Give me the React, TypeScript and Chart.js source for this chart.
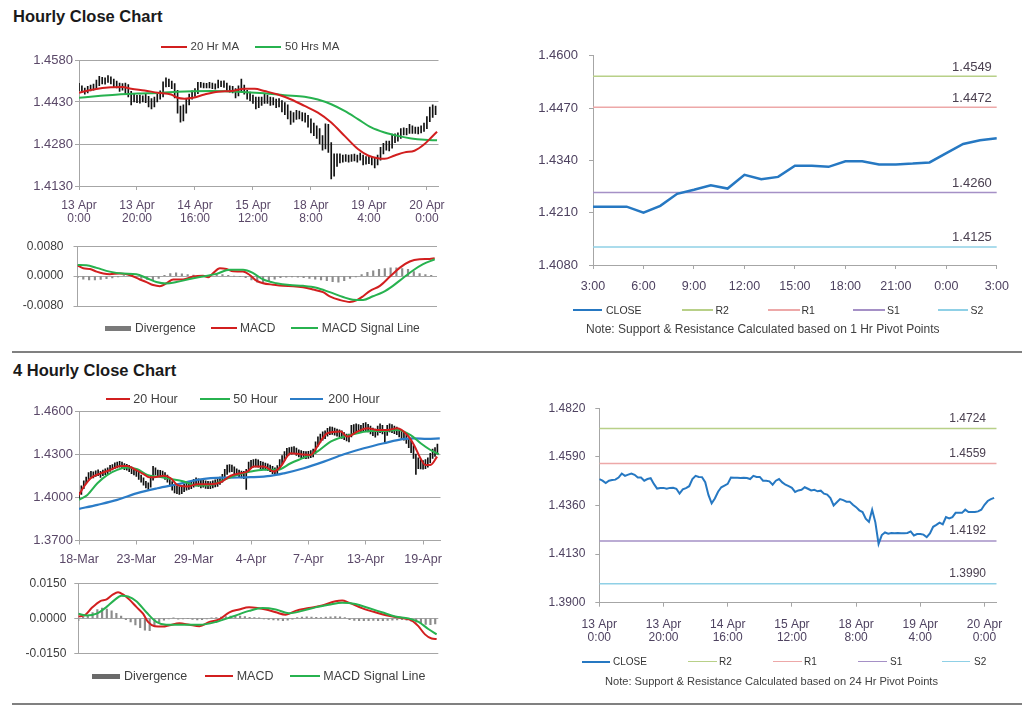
import React, { useEffect, useRef } from 'react';
import { Chart, registerables } from 'chart.js';

Chart.register(...registerables);

const FONT = '"Liberation Sans", Arial, Helvetica, sans-serif';
Chart.defaults.font.family = FONT;

// ---------------- DATA: hourly (13 Apr 0:00 -> 20 Apr ~3:00) ----------------
const hourTickIdx = [0, 20, 40, 60, 80, 100, 120];
const hourTickLabels = [
  ['13 Apr', '0:00'], ['13 Apr', '20:00'], ['14 Apr', '16:00'], ['15 Apr', '12:00'],
  ['18 Apr', '8:00'], ['19 Apr', '4:00'], ['20 Apr', '0:00'],
];
const hourYTicks = [1.413, 1.428, 1.443, 1.458];

const hourHigh = [
  1.4497, 1.4488, 1.4480, 1.4486, 1.4490, 1.4494, 1.4508, 1.4522, 1.4518, 1.4516,
  1.4524, 1.4520, 1.4512, 1.4505, 1.4498, 1.4496, 1.4498, 1.4492, 1.4468, 1.4458,
  1.4454, 1.4455, 1.4452, 1.4457, 1.4450, 1.4442, 1.4448, 1.4460, 1.4470, 1.4502,
  1.4516, 1.4512, 1.4505, 1.4496, 1.4472, 1.4415, 1.4420, 1.4440, 1.4458, 1.4470,
  1.4478, 1.4500, 1.4500, 1.4498, 1.4497, 1.4500, 1.4498, 1.4495, 1.4508, 1.4505,
  1.4506, 1.4498, 1.4488, 1.4486, 1.4478, 1.4488, 1.4512, 1.4490, 1.4472, 1.4465,
  1.4455, 1.4448, 1.4448, 1.4448, 1.4460, 1.4455, 1.4448, 1.4446, 1.4440, 1.4442,
  1.4435, 1.4428, 1.4420, 1.4398, 1.4392, 1.4400, 1.4398, 1.4392, 1.4390, 1.4382,
  1.4370, 1.4355, 1.4345, 1.4335, 1.4310, 1.4352, 1.4350, 1.4285, 1.4245, 1.4245,
  1.4245, 1.4240, 1.4242, 1.4240, 1.4242, 1.4244, 1.4240, 1.4248, 1.4240, 1.4235,
  1.4236, 1.4235, 1.4230, 1.4240, 1.4268, 1.4282, 1.4290, 1.4290, 1.4315, 1.4316,
  1.4320, 1.4335, 1.4338, 1.4336, 1.4350, 1.4345, 1.4340, 1.4340, 1.4345, 1.4355,
  1.4378, 1.4412, 1.4420, 1.4415,
];
const hourLow = [
  1.4470, 1.4465, 1.4458, 1.4462, 1.4470, 1.4472, 1.4478, 1.4488, 1.4495, 1.4494,
  1.4500, 1.4495, 1.4485, 1.4480, 1.4468, 1.4472, 1.4458, 1.4448, 1.4420, 1.4430,
  1.4428, 1.4426, 1.4430, 1.4428, 1.4412, 1.4405, 1.4412, 1.4430, 1.4440, 1.4448,
  1.4484, 1.4485, 1.4478, 1.4445, 1.4390, 1.4358, 1.4362, 1.4390, 1.4420, 1.4440,
  1.4450, 1.4460, 1.4482, 1.4480, 1.4480, 1.4480, 1.4478, 1.4476, 1.4480, 1.4485,
  1.4482, 1.4468, 1.4465, 1.4462, 1.4445, 1.4452, 1.4470, 1.4458, 1.4440, 1.4435,
  1.4425, 1.4405, 1.4410, 1.4418, 1.4425, 1.4425, 1.4418, 1.4420, 1.4410, 1.4412,
  1.4395, 1.4385, 1.4370, 1.4350, 1.4358, 1.4368, 1.4370, 1.4362, 1.4358, 1.4340,
  1.4320, 1.4310, 1.4300, 1.4280, 1.4258, 1.4262, 1.4250, 1.4155, 1.4165, 1.4200,
  1.4212, 1.4215, 1.4218, 1.4215, 1.4218, 1.4220, 1.4215, 1.4222, 1.4205, 1.4208,
  1.4210, 1.4205, 1.4195, 1.4205, 1.4222, 1.4245, 1.4258, 1.4255, 1.4265, 1.4285,
  1.4290, 1.4300, 1.4312, 1.4312, 1.4318, 1.4318, 1.4318, 1.4316, 1.4320, 1.4325,
  1.4335, 1.4360, 1.4375, 1.4385,
];
const hourClose = [
  1.4485, 1.4477, 1.4466, 1.4477, 1.4480, 1.4482, 1.4492, 1.4511, 1.4500, 1.4506,
  1.4511, 1.4505, 1.4492, 1.4492, 1.4477, 1.4485, 1.4489, 1.4462, 1.4440, 1.4443,
  1.4443, 1.4439, 1.4443, 1.4444, 1.4439, 1.4416, 1.4436, 1.4442, 1.4451, 1.4485,
  1.4500, 1.4495, 1.4494, 1.4470, 1.4410, 1.4370, 1.4393, 1.4425, 1.4446, 1.4454,
  1.4462, 1.4492, 1.4491, 1.4491, 1.4490, 1.4491, 1.4490, 1.4485, 1.4500, 1.4495,
  1.4495, 1.4477, 1.4477, 1.4474, 1.4458, 1.4477, 1.4485, 1.4469, 1.4458, 1.4451,
  1.4443, 1.4424, 1.4431, 1.4434, 1.4446, 1.4439, 1.4431, 1.4434, 1.4427, 1.4430,
  1.4416, 1.4411, 1.4395, 1.4360, 1.4375, 1.4390, 1.4385, 1.4378, 1.4378, 1.4363,
  1.4352, 1.4337, 1.4329, 1.4297, 1.4282, 1.4340, 1.4280, 1.4178, 1.4220, 1.4232,
  1.4226, 1.4230, 1.4228, 1.4230, 1.4229, 1.4229, 1.4230, 1.4237, 1.4218, 1.4225,
  1.4225, 1.4222, 1.4210, 1.4228, 1.4259, 1.4268, 1.4279, 1.4271, 1.4305, 1.4299,
  1.4305, 1.4325, 1.4325, 1.4325, 1.4340, 1.4329, 1.4329, 1.4329, 1.4332, 1.4340,
  1.4363, 1.4381, 1.4390, 1.4396,
];
const hourMa20X = [0, 5, 11, 15, 18, 22.6, 27.2, 31.8, 34, 36.4, 39.3, 43.3, 48, 52.5, 57, 60.6, 64, 68.6, 73.2, 77.8, 82.4, 87, 91.6, 96.2, 99.7, 103, 105.4, 108.9, 112.3, 115.7, 119.2, 121.6, 123.5];
const hourMa20 = [1.4463, 1.4475, 1.4483, 1.4484, 1.4477, 1.4471, 1.4463, 1.4457, 1.4445, 1.4442, 1.4445, 1.4457, 1.4467, 1.4469, 1.4477, 1.4477, 1.4469, 1.4457, 1.4439, 1.4416, 1.4392, 1.4357, 1.4309, 1.4262, 1.4239, 1.4229, 1.4227, 1.4239, 1.4250, 1.4256, 1.4280, 1.4304, 1.4324];
const hourMa50X = [0, 6.6, 13.5, 20.3, 28.4, 34, 45.6, 54.8, 64, 70.9, 77.8, 82.4, 87, 91.6, 96.2, 100.8, 105.4, 110, 114.6, 119.2, 123.5];
const hourMa50 = [1.4445, 1.4451, 1.4457, 1.4460, 1.4463, 1.4467, 1.4469, 1.4467, 1.4461, 1.4454, 1.4449, 1.4439, 1.4422, 1.4398, 1.4369, 1.4339, 1.4321, 1.4309, 1.4300, 1.4295, 1.4293];

const hourMacdTicks = [-0.008, 0, 0.008];
const hourMacdX = [0, 2, 4.3, 6.6, 8.9, 11.1, 14.6, 18, 21.5, 23.8, 26.1, 28.4, 30.7, 33, 36.4, 39.9, 43.3, 45.1, 46.8, 49.1, 51.4, 53.7, 57.1, 59.4, 61.7, 64, 67.5, 70.9, 74.4, 77.8, 81.3, 84.7, 87, 90.5, 93.9, 96.2, 98.5, 100.8, 104.3, 107.7, 111.1, 114.6, 118, 121.5, 123.2];
const hourMacd = [0.0029, 0.0021, 0.0019, 0.0012, 0.0007, 0.0005, 0.0007, 0.0003, -0.0009, -0.0016, -0.0024, -0.0027, -0.0019, -0.0009, -0.0009, -0.0001, 0.0001, -0.0003, 0.0008, 0.0021, 0.0019, 0.0013, 0.0012, 0.0003, -0.0012, -0.0019, -0.0023, -0.0026, -0.0027, -0.0030, -0.0036, -0.0043, -0.0054, -0.0064, -0.0069, -0.0065, -0.0054, -0.0040, -0.0026, -0.0002, 0.0022, 0.0039, 0.0045, 0.0046, 0.0048];
const hourSignalX = [0, 3.1, 6.6, 11.1, 15.7, 20.3, 23.8, 27.2, 30.7, 34.1, 38.7, 43.3, 47.9, 52.5, 57.1, 60.6, 64, 68.6, 73.2, 77.8, 82.4, 87, 91.6, 95, 98.5, 101.9, 105.4, 108.8, 112.3, 115.7, 119.2, 123.2];
const hourSignal = [0.0030, 0.0029, 0.0022, 0.0012, 0.0007, 0.0005, -0.0005, -0.0016, -0.0020, -0.0016, -0.0008, -0.0001, 0.0006, 0.0017, 0.0017, 0.0008, -0.0009, -0.0019, -0.0024, -0.0026, -0.0031, -0.0043, -0.0056, -0.0063, -0.0064, -0.0054, -0.0043, -0.0026, -0.0005, 0.0015, 0.0032, 0.0045];
const DIV_STEP = 2; // divergence read at every 2nd bar
const hourDiv = [
  -0.0004, -0.0008, -0.0010, -0.0010, -0.0009, -0.0007, -0.0005, -0.0002, 0.0001, 0.0002,
  -0.0002, -0.0006, -0.0009, -0.0010, -0.0006, 0.0002, 0.0007, 0.0009, 0.0006, 0.0004,
  0.0003, 0.0002, 0.0000, 0.0004, 0.0005, 0.0004, 0.0002, 0.0000, -0.0001, -0.0004,
  -0.0010, -0.0016, -0.0018, -0.0014, -0.0008, -0.0004, -0.0003, -0.0002, -0.0003, -0.0004,
  -0.0006, -0.0008, -0.0010, -0.0012, -0.0015, -0.0016, -0.0012, -0.0006, -0.0002, 0.0004,
  0.0010, 0.0014, 0.0018, 0.0020, 0.0022, 0.0022, 0.0020, 0.0018, 0.0012, 0.0007,
  0.0004, 0.0002,
];

// ---------------- DATA: 1 hr pivot chart ----------------
const pivot1TickIdx = [0, 3, 6, 9, 12, 15, 18, 21, 24];
const pivot1Labels = ['3:00', '6:00', '9:00', '12:00', '15:00', '18:00', '21:00', '0:00', '3:00'];
const pivot1YTicks = [1.408, 1.421, 1.434, 1.447, 1.46];
const pivot1Close = [1.4225, 1.4225, 1.4225, 1.4210, 1.4227, 1.4257, 1.4267, 1.4278, 1.4270, 1.4304, 1.4293, 1.4299, 1.4327, 1.4327, 1.4324, 1.4338, 1.4338, 1.4330, 1.4330, 1.4332, 1.4335, 1.4358, 1.4381, 1.4390, 1.4395];
const pivotNames = ['R2', 'R1', 'S1', 'S2'];
const pivot1Levels = [1.4549, 1.4472, 1.4260, 1.4125];

// ---------------- DATA: 4 hourly (18 Mar -> 20 Apr) ----------------
const fourTickIdx = [0, 24, 48, 72, 96, 120, 144];
const fourTickLabels = ['18-Mar', '23-Mar', '29-Mar', '4-Apr', '7-Apr', '13-Apr', '19-Apr'];
const fourYTicks = [1.37, 1.40, 1.43, 1.46];
const fourHigh = [
  1.4035, 1.4080, 1.4115, 1.4140, 1.4172, 1.4180, 1.4178, 1.4185, 1.4192, 1.4180,
  1.4190, 1.4198, 1.4205, 1.4222, 1.4228, 1.4240, 1.4245, 1.4250, 1.4245, 1.4235,
  1.4230, 1.4222, 1.4212, 1.4200, 1.4192, 1.4175, 1.4155, 1.4135, 1.4112, 1.4100,
  1.4150, 1.4215, 1.4205, 1.4190, 1.4188, 1.4182, 1.4172, 1.4155, 1.4135, 1.4110,
  1.4090, 1.4080, 1.4075, 1.4082, 1.4092, 1.4100, 1.4105, 1.4110, 1.4125, 1.4135,
  1.4128, 1.4118, 1.4120, 1.4115, 1.4112, 1.4110, 1.4115, 1.4122, 1.4128, 1.4140,
  1.4160, 1.4195, 1.4225, 1.4228, 1.4225, 1.4212, 1.4198, 1.4190, 1.4182, 1.4180,
  1.4195, 1.4245, 1.4258, 1.4262, 1.4265, 1.4260, 1.4250, 1.4245, 1.4238, 1.4232,
  1.4225, 1.4215, 1.4205, 1.4220, 1.4262, 1.4290, 1.4318, 1.4340, 1.4345, 1.4350,
  1.4352, 1.4342, 1.4330, 1.4325, 1.4320, 1.4318, 1.4320, 1.4325, 1.4335, 1.4385,
  1.4420, 1.4440, 1.4455, 1.4462, 1.4480, 1.4490, 1.4488, 1.4482, 1.4475, 1.4470,
  1.4462, 1.4450, 1.4440, 1.4440, 1.4500, 1.4505, 1.4510, 1.4505, 1.4500, 1.4515,
  1.4520, 1.4508, 1.4495, 1.4482, 1.4475, 1.4495, 1.4510, 1.4500, 1.4470, 1.4500,
  1.4510, 1.4505, 1.4495, 1.4488, 1.4472, 1.4462, 1.4452, 1.4435, 1.4412, 1.4390,
  1.4360, 1.4300, 1.4275, 1.4260, 1.4255, 1.4262, 1.4275, 1.4305, 1.4335, 1.4345,
  1.4370,
];
const fourLow = [
  1.3985, 1.4020, 1.4060, 1.4095, 1.4120, 1.4138, 1.4135, 1.4145, 1.4150, 1.4138,
  1.4150, 1.4158, 1.4165, 1.4180, 1.4190, 1.4200, 1.4205, 1.4210, 1.4205, 1.4192,
  1.4188, 1.4178, 1.4165, 1.4155, 1.4145, 1.4125, 1.4105, 1.4085, 1.4065, 1.4055,
  1.4070, 1.4120, 1.4155, 1.4145, 1.4142, 1.4138, 1.4125, 1.4105, 1.4080, 1.4050,
  1.4030, 1.4025, 1.4020, 1.4025, 1.4040, 1.4050, 1.4055, 1.4060, 1.4070, 1.4080,
  1.4075, 1.4065, 1.4070, 1.4062, 1.4060, 1.4060, 1.4065, 1.4072, 1.4075, 1.4090,
  1.4105, 1.4130, 1.4160, 1.4175, 1.4178, 1.4165, 1.4150, 1.4142, 1.4135, 1.4130,
  1.4055, 1.4180, 1.4200, 1.4210, 1.4212, 1.4210, 1.4200, 1.4195, 1.4190, 1.4185,
  1.4178, 1.4165, 1.4150, 1.4165, 1.4200, 1.4230, 1.4255, 1.4285, 1.4295, 1.4300,
  1.4305, 1.4292, 1.4280, 1.4275, 1.4270, 1.4268, 1.4270, 1.4275, 1.4280, 1.4305,
  1.4355, 1.4380, 1.4398, 1.4408, 1.4425, 1.4435, 1.4438, 1.4432, 1.4425, 1.4420,
  1.4410, 1.4400, 1.4392, 1.4385, 1.4420, 1.4445, 1.4455, 1.4452, 1.4450, 1.4458,
  1.4462, 1.4455, 1.4440, 1.4428, 1.4418, 1.4432, 1.4450, 1.4440, 1.4380, 1.4430,
  1.4455, 1.4450, 1.4442, 1.4435, 1.4420, 1.4408, 1.4398, 1.4375, 1.4345, 1.4310,
  1.4270, 1.4160, 1.4200, 1.4198, 1.4195, 1.4200, 1.4210, 1.4240, 1.4270, 1.4285,
  1.4300,
];
const fourMa20X = [0, 2.1, 4.9, 9.1, 13.2, 17.4, 20.2, 23.7, 27.2, 29.3, 31.4, 35.6, 38.4, 41.1, 45.3, 49.5, 55.1, 59.3, 63.5, 67.6, 70.4, 73.2, 77.4, 81.6, 84.4, 88.6, 92.8, 96.9, 99.7, 103.9, 109.5, 112.3, 116.5, 120.7, 124.8, 129, 133.2, 137.4, 140.2, 142.9, 145, 147.1, 149.9];
const fourMa20 = [1.4017, 1.4075, 1.4133, 1.4167, 1.4191, 1.4218, 1.4218, 1.4191, 1.4160, 1.4140, 1.4140, 1.4150, 1.4133, 1.4086, 1.4075, 1.4091, 1.4091, 1.4105, 1.4150, 1.4167, 1.4179, 1.4214, 1.4214, 1.4179, 1.4214, 1.4306, 1.4299, 1.4295, 1.4352, 1.4445, 1.4457, 1.4422, 1.4457, 1.4480, 1.4468, 1.4468, 1.4480, 1.4433, 1.4364, 1.4272, 1.4225, 1.4225, 1.4283];
const fourMa50X = [0, 3.5, 7.7, 11.9, 16, 20.2, 24.4, 28.6, 32.8, 38.4, 43.9, 49.5, 55.1, 60.7, 66.3, 71.8, 77.4, 83, 88.6, 94.1, 99.7, 105.3, 110.9, 116.5, 122, 127.6, 133.2, 138.8, 143, 147.1, 150.6];
const fourMa50 = [1.3982, 1.4017, 1.4098, 1.4156, 1.4191, 1.4207, 1.4195, 1.4156, 1.4144, 1.4128, 1.4110, 1.4082, 1.4086, 1.4121, 1.4156, 1.4179, 1.4191, 1.4191, 1.4237, 1.4276, 1.4318, 1.4387, 1.4422, 1.4445, 1.4461, 1.4461, 1.4468, 1.4433, 1.4376, 1.4329, 1.4299];
const fourMa200X = [0, 7.7, 16, 24.4, 32.8, 41.1, 49.5, 55.1, 63.5, 71.8, 80.2, 85.8, 94.1, 102.5, 110.9, 119.2, 127.6, 136, 140.2, 145.7, 151];
const fourMa200 = [1.3920, 1.3948, 1.3982, 1.4029, 1.4063, 1.4091, 1.4121, 1.4133, 1.4137, 1.4140, 1.4149, 1.4167, 1.4202, 1.4248, 1.4299, 1.4341, 1.4376, 1.4406, 1.4410, 1.4406, 1.4410];

const fourMacdTicks = [-0.015, 0, 0.015];
const fourMacdX = [0, 2.8, 5.6, 9.1, 11.9, 14.6, 16.7, 18.8, 21.6, 24.4, 27.2, 29.3, 32.1, 35.6, 38.4, 42.5, 46.7, 50.9, 55.1, 59.3, 63.5, 67.6, 71.8, 75.3, 78.8, 83, 87.2, 91.3, 96.9, 102.5, 108.1, 110.9, 113.7, 119.2, 124.8, 130.4, 136, 140.2, 142.9, 145.7, 148.5, 150.6];
const fourMacd = [0.0008, 0.0014, 0.0044, 0.0073, 0.0081, 0.0102, 0.0111, 0.0102, 0.0079, 0.0049, 0.0020, -0.0015, -0.0033, -0.0035, -0.0029, -0.0021, -0.0027, -0.0033, -0.0015, -0.0004, 0.0026, 0.0038, 0.0047, 0.0044, 0.0038, 0.0026, 0.0016, 0.0032, 0.0044, 0.0055, 0.0073, 0.0076, 0.0067, 0.0044, 0.0026, 0.0011, 0.0002, -0.0009, -0.0033, -0.0068, -0.0086, -0.0088];
const fourSignalX = [0, 3.5, 7.7, 11.9, 15.3, 18.1, 20.9, 24.4, 28.6, 32.8, 37, 43.9, 50.9, 57.9, 64.9, 71.8, 77.4, 83, 88.6, 94.1, 99.7, 105.3, 110.9, 116.5, 122, 127.6, 133.2, 138.8, 143, 147.1, 150.6];
const fourSignal = [0.0020, 0.0012, 0.0020, 0.0049, 0.0079, 0.0096, 0.0093, 0.0073, 0.0026, -0.0015, -0.0027, -0.0027, -0.0027, -0.0015, 0.0008, 0.0032, 0.0044, 0.0038, 0.0022, 0.0032, 0.0047, 0.0058, 0.0067, 0.0061, 0.0044, 0.0026, 0.0008, 0.0000, -0.0015, -0.0045, -0.0068];
const fourDiv = [
  -0.0010, 0.0005, 0.0012, 0.0025, 0.0038, 0.0044, 0.0040, 0.0032, 0.0022, 0.0010,
  -0.0005, -0.0015, -0.0028, -0.0040, -0.0050, -0.0052, -0.0035, -0.0015, -0.0008, -0.0002,
  0.0002, -0.0003, -0.0002, 0.0000, -0.0004, -0.0006, -0.0005, -0.0002, 0.0002, 0.0004,
  0.0006, 0.0008, 0.0010, 0.0012, 0.0010, 0.0008, 0.0005, 0.0003, 0.0001, -0.0002,
  -0.0004, -0.0006, -0.0008, -0.0010, -0.0008, -0.0003, 0.0003, 0.0006, 0.0007, 0.0006,
  0.0005, 0.0004, 0.0006, 0.0007, 0.0008, 0.0007, 0.0003, -0.0005, -0.0009, -0.0010,
  -0.0010, -0.0010, -0.0009, -0.0010, -0.0010, -0.0009, -0.0008, -0.0006, -0.0005, -0.0008,
  -0.0012, -0.0016, -0.0022, -0.0026, -0.0027, -0.0024,
];

// ---------------- DATA: 24 hr pivot chart ----------------
const pivot24YTicks = [1.39, 1.413, 1.436, 1.459, 1.482];
const pivot24Levels = [1.4724, 1.4559, 1.4192, 1.3990];

// ---------------- STYLES ----------------
const GRID = '#a6a6a6';
const TICK_PRICE = '#5a4868';
const TICK_MACD = '#3a3a3a';
const TICK_PIVOT = '#4e4260';
const TXT = '#3f3f3f';
const RED = '#d21f1f';
const GREEN = '#27b24f';
const BLUE200 = '#2b7cc7';
const CLOSE_BLUE = '#2678c2';
const DIV_GRAY = '#8c8c8c';
const PIVOT_COLORS = ['#b8d088', '#eda8a8', '#a590c6', '#8fd0e6'];

type Geo = { cx: number; cy: number; cw: number; ch: number; L: number; T: number; R: number; B: number };
const G1: Geo = { cx: 0, cy: 50, cw: 460, ch: 180, L: 79, T: 60, R: 438.5, B: 186 };
const G2: Geo = { cx: 0, cy: 229, cw: 460, ch: 97, L: 77.5, T: 239, R: 437, B: 316 };
const G3: Geo = { cx: 520, cy: 37, cw: 500, ch: 263, L: 593, T: 47, R: 998, B: 265 };
const G4: Geo = { cx: 0, cy: 401, cw: 460, ch: 170, L: 79, T: 411, R: 440.5, B: 540.5 };
const G5: Geo = { cx: 0, cy: 568, cw: 460, ch: 105, L: 78.3, T: 578.3, R: 438.3, B: 663.3 };
const G6: Geo = { cx: 520, cy: 391, cw: 500, ch: 255, L: 599.3, T: 401.7, R: 996.7, B: 602.7 };

const pts = (xs: number[], ys: number[]) => xs.map((x, k) => ({ x, y: ys[k] }));

function yAxis(g: Geo, min: number, max: number, ticks: number[], o: any) {
  return {
    type: 'linear', position: 'left', min, max,
    afterBuildTicks: (s: any) => { s.ticks = ticks.map((v) => ({ value: v })); },
    afterFit: (s: any) => { s.width = g.L - g.cx; },
    ticks: {
      autoSkip: false, padding: o.pad, color: o.color,
      font: { size: o.size, family: FONT },
      callback: (v: any) => Number(v).toFixed(4),
    },
    grid: { display: true, drawOnChartArea: o.grid, drawTicks: true, tickLength: 4, color: GRID, lineWidth: 1 },
    border: { display: true, color: GRID, width: 1 },
  };
}

function xAxis(g: Geo, min: number, max: number, tickIdx: number[], labels: any[], o: any) {
  return {
    type: 'linear', position: 'bottom', min, max, offset: false, display: o.show,
    afterBuildTicks: (s: any) => { s.ticks = tickIdx.map((v) => ({ value: v })); },
    afterFit: (s: any) => { s.height = g.cy + g.ch - g.B; },
    ticks: {
      autoSkip: false, maxRotation: 0, minRotation: 0, padding: o.pad || 0, color: o.color || TXT,
      font: { size: o.size || 12, family: FONT, lineHeight: 1.1 },
      callback: (_v: any, i: number) => labels[i],
    },
    grid: { display: true, offset: false, drawOnChartArea: false, drawTicks: true, tickLength: 4, color: GRID },
    border: { display: true, color: GRID, width: 1 },
  };
}

function baseOptions(g: Geo, scales: any, xShown: boolean, extraPlugins: any = {}) {
  return {
    responsive: false,
    animation: false,
    events: [],
    layout: { padding: { left: 0, top: g.T - g.cy, right: g.cx + g.cw - g.R, bottom: xShown ? 0 : g.cy + g.ch - g.B } },
    plugins: { legend: { display: false }, tooltip: { enabled: false }, ...extraPlugins },
    scales,
  };
}

const pivotLabelPlugin = {
  id: 'pivotLabels',
  afterDatasetsDraw(chart: any, _args: any, opts: any) {
    const { ctx, chartArea } = chart;
    const ys = chart.scales.y;
    ctx.save();
    ctx.font = `${opts.size}px ${FONT}`;
    ctx.fillStyle = opts.color;
    ctx.textAlign = 'right';
    ctx.textBaseline = 'middle';
    chart.data.datasets.forEach((ds: any) => {
      if (ds.pivotLevel !== undefined) {
        ctx.fillText(ds.pivotLevel.toFixed(4), chartArea.right - opts.inset, ys.getPixelForValue(ds.pivotLevel) - opts.lift);
      }
    });
    ctx.restore();
  },
};

const lineDs = (data: any[], color: string, width: number, order: number, smooth = true) => ({
  type: 'line', data, borderColor: color, borderWidth: width, pointRadius: 0, order,
  cubicInterpolationMode: smooth ? 'monotone' : 'default', tension: 0, fill: false,
});

function pivotDatasets(levels: number[], xMax: number) {
  return levels.map((lvl, k) => ({
    type: 'line',
    label: pivotNames[k],
    data: [{ x: 0, y: lvl }, { x: xMax, y: lvl }],
    borderColor: PIVOT_COLORS[k], borderWidth: 1.5, pointRadius: 0, order: 2 + k,
    pivotLevel: lvl,
  }));
}

const makeHourly = () => ({
  type: 'bar',
  data: {
    datasets: [
      lineDs(pts(hourMa20X, hourMa20), RED, 2, 0),
      lineDs(pts(hourMa50X, hourMa50), GREEN, 2, 1),
      { type: 'bar', data: hourHigh.map((h, i) => ({ x: i, y: [hourLow[i], h] })), backgroundColor: '#111111', barThickness: 1, order: 5 },
    ],
  },
  options: baseOptions(G1, {
    x: xAxis(G1, 0, 124, hourTickIdx, hourTickLabels, { show: true, pad: 9, color: TICK_PRICE, size: 12 }),
    y: yAxis(G1, 1.413, 1.458, hourYTicks, { grid: true, pad: 2, color: TICK_PRICE, size: 13 }),
  }, true),
});

const makeHourMacd = () => ({
  type: 'bar',
  data: {
    datasets: [
      lineDs(pts(hourSignalX, hourSignal), GREEN, 2, 0),
      lineDs(pts(hourMacdX, hourMacd), RED, 2, 1),
      { type: 'bar', data: hourDiv.map((v, k) => ({ x: k * DIV_STEP, y: v })), backgroundColor: DIV_GRAY, barThickness: 1.5, order: 5 },
    ],
  },
  options: baseOptions(G2, {
    x: xAxis(G2, 0, 124, [], [], { show: false }),
    y: yAxis(G2, -0.008, 0.008, hourMacdTicks, { grid: true, pad: 10, color: TICK_MACD, size: 12 }),
  }, false),
});

const makePivot1 = () => ({
  type: 'line',
  data: {
    datasets: [
      lineDs(pivot1Close.map((v, i) => ({ x: i, y: v })), CLOSE_BLUE, 2.5, 0, false),
      ...pivotDatasets(pivot1Levels, 24),
    ],
  },
  options: baseOptions(G3, {
    x: xAxis(G3, 0, 24, pivot1TickIdx, pivot1Labels, { show: true, pad: 11, color: TICK_PIVOT, size: 12.5 }),
    y: yAxis(G3, 1.408, 1.46, pivot1YTicks, { grid: false, pad: 11, color: TICK_PIVOT, size: 13 }),
  }, true, { pivotLabels: { inset: 5, lift: 9, size: 13, color: '#4a4050' } }),
  plugins: [pivotLabelPlugin],
});

const makeFour = () => ({
  type: 'bar',
  data: {
    datasets: [
      lineDs(pts(fourMa20X, fourMa20), RED, 2, 0),
      lineDs(pts(fourMa50X, fourMa50), GREEN, 2, 1),
      lineDs(pts(fourMa200X, fourMa200), BLUE200, 2.2, 2),
      { type: 'bar', data: fourHigh.map((h, i) => ({ x: i, y: [fourLow[i], h] })), backgroundColor: '#111111', barThickness: 1, order: 5 },
    ],
  },
  options: baseOptions(G4, {
    x: xAxis(G4, 0, 151.3, fourTickIdx, fourTickLabels, { show: true, pad: 8, color: TICK_PRICE, size: 12.5 }),
    y: yAxis(G4, 1.37, 1.46, fourYTicks, { grid: true, pad: 2, color: TICK_PRICE, size: 13 }),
  }, true),
});

const makeFourMacd = () => ({
  type: 'bar',
  data: {
    datasets: [
      lineDs(pts(fourSignalX, fourSignal), GREEN, 2, 0),
      lineDs(pts(fourMacdX, fourMacd), RED, 2, 1),
      { type: 'bar', data: fourDiv.map((v, k) => ({ x: k * DIV_STEP, y: v })), backgroundColor: DIV_GRAY, barThickness: 1.5, order: 5 },
    ],
  },
  options: baseOptions(G5, {
    x: xAxis(G5, 0, 151.3, [], [], { show: false }),
    y: yAxis(G5, -0.015, 0.015, fourMacdTicks, { grid: true, pad: 8, color: TICK_MACD, size: 12 }),
  }, false),
});

const makePivot24 = () => ({
  type: 'line',
  data: {
    datasets: [
      lineDs(hourClose.map((v, i) => ({ x: i, y: v })), CLOSE_BLUE, 2, 0, false),
      ...pivotDatasets(pivot24Levels, 123.8),
    ],
  },
  options: baseOptions(G6, {
    x: xAxis(G6, 0, 123.8, hourTickIdx, hourTickLabels, { show: true, pad: 11, color: TICK_PIVOT, size: 12 }),
    y: yAxis(G6, 1.39, 1.482, pivot24YTicks, { grid: false, pad: 10, color: TICK_PIVOT, size: 12 }),
  }, true, { pivotLabels: { inset: 10.7, lift: 10, size: 12, color: '#4a4050' } }),
  plugins: [pivotLabelPlugin],
});

function ChartBox({ geo, make }: { geo: Geo; make: () => any }) {
  const ref = useRef<HTMLCanvasElement>(null);
  useEffect(() => {
    const chart = new Chart(ref.current as HTMLCanvasElement, make());
    return () => chart.destroy();
  }, []);
  return (
    <canvas
      ref={ref}
      width={geo.cw}
      height={geo.ch}
      style={{ position: 'absolute', left: geo.cx, top: geo.cy, width: geo.cw, height: geo.ch }}
    />
  );
}

type LegItem = { kind: 'line' | 'bar'; color: string; x1: number; x2: number; tx: number; text: string; lw?: number };

function Legend({ y, size, items, color = TXT }: { y: number; size: number; items: LegItem[]; color?: string }) {
  return (
    <>
      {items.map((it, k) => {
        const h = it.kind === 'bar' ? 5 : it.lw || 2;
        return (
          <React.Fragment key={k}>
            <div style={{ position: 'absolute', left: it.x1, top: y - h / 2, width: it.x2 - it.x1, height: h, background: it.color }} />
            <div style={{ position: 'absolute', left: it.tx, top: y - size / 2, fontSize: size, lineHeight: `${size}px`, color, whiteSpace: 'nowrap', fontFamily: FONT }}>
              {it.text}
            </div>
          </React.Fragment>
        );
      })}
    </>
  );
}

function Txt({ x, y, size, text, bold, color }: any) {
  return (
    <div style={{ position: 'absolute', left: x, top: y - size / 2, fontSize: size, lineHeight: `${size}px`, fontWeight: bold ? 700 : 400, color, whiteSpace: 'nowrap', fontFamily: FONT }}>
      {text}
    </div>
  );
}

export default function App() {
  return (
    <div style={{ position: 'absolute', left: 0, top: 0, width: 1024, height: 706, background: '#ffffff', overflow: 'hidden', fontFamily: FONT }}>
      <Txt x={13} y={16} size={16.5} bold color="#1a1a1a" text="Hourly Close Chart" />
      <Txt x={13} y={370} size={16.5} bold color="#1a1a1a" text="4 Hourly Close Chart" />

      <ChartBox geo={G1} make={makeHourly} />
      <ChartBox geo={G2} make={makeHourMacd} />
      <ChartBox geo={G3} make={makePivot1} />
      <ChartBox geo={G4} make={makeFour} />
      <ChartBox geo={G5} make={makeFourMacd} />
      <ChartBox geo={G6} make={makePivot24} />

      <Legend y={46.7} size={11.5} items={[
        { kind: 'line', color: RED, x1: 161, x2: 187, tx: 190.5, text: '20 Hr MA' },
        { kind: 'line', color: GREEN, x1: 255, x2: 281, tx: 285, text: '50 Hrs MA' },
      ]} />
      <Legend y={328.3} size={12} items={[
        { kind: 'bar', color: '#7a7a7a', x1: 105, x2: 131, tx: 135, text: 'Divergence' },
        { kind: 'line', color: RED, x1: 210.7, x2: 237.3, tx: 240, text: 'MACD' },
        { kind: 'line', color: GREEN, x1: 291, x2: 318.3, tx: 321.7, text: 'MACD Signal Line' },
      ]} />
      <Legend y={310} size={10.5} color="#333333" items={[
        { kind: 'line', color: CLOSE_BLUE, x1: 573, x2: 602, tx: 606, text: 'CLOSE' },
        { kind: 'line', color: PIVOT_COLORS[0], x1: 682, x2: 713, tx: 715.5, text: pivotNames[0], lw: 1.5 },
        { kind: 'line', color: PIVOT_COLORS[1], x1: 768, x2: 800, tx: 801.5, text: pivotNames[1], lw: 1.5 },
        { kind: 'line', color: PIVOT_COLORS[2], x1: 853, x2: 885, tx: 887, text: pivotNames[2], lw: 1.5 },
        { kind: 'line', color: PIVOT_COLORS[3], x1: 938, x2: 968, tx: 970.5, text: pivotNames[3], lw: 1.5 },
      ]} />
      <Txt x={586} y={329} size={12} color="#404040" text="Note: Support & Resistance Calculated based on 1 Hr Pivot Points" />

      <Legend y={399} size={12.5} items={[
        { kind: 'line', color: RED, x1: 106, x2: 130, tx: 133.3, text: '20 Hour' },
        { kind: 'line', color: GREEN, x1: 200, x2: 230, tx: 233.3, text: '50 Hour' },
        { kind: 'line', color: BLUE200, x1: 290, x2: 323, tx: 328.3, text: '200 Hour' },
      ]} />
      <Legend y={676} size={12.5} items={[
        { kind: 'bar', color: '#6a6a6a', x1: 91.7, x2: 120, tx: 124, text: 'Divergence' },
        { kind: 'line', color: RED, x1: 205, x2: 233.3, tx: 236.7, text: 'MACD' },
        { kind: 'line', color: GREEN, x1: 290, x2: 320, tx: 323.3, text: 'MACD Signal Line' },
      ]} />
      <Legend y={661.7} size={10} color="#333333" items={[
        { kind: 'line', color: CLOSE_BLUE, x1: 582, x2: 610, tx: 613, text: 'CLOSE' },
        { kind: 'line', color: PIVOT_COLORS[0], x1: 688, x2: 717, tx: 719, text: pivotNames[0], lw: 1.5 },
        { kind: 'line', color: PIVOT_COLORS[1], x1: 773, x2: 802, tx: 804, text: pivotNames[1], lw: 1.5 },
        { kind: 'line', color: PIVOT_COLORS[2], x1: 858, x2: 887, tx: 890, text: pivotNames[2], lw: 1.5 },
        { kind: 'line', color: PIVOT_COLORS[3], x1: 942, x2: 970, tx: 974, text: pivotNames[3], lw: 1.5 },
      ]} />
      <Txt x={605} y={681.7} size={11.1} color="#404040" text="Note: Support & Resistance Calculated based on 24 Hr Pivot Points" />

      <div style={{ position: 'absolute', left: 12, top: 351, width: 1010, height: 2, background: '#808080' }} />
      <div style={{ position: 'absolute', left: 12, top: 703, width: 1010, height: 2, background: '#808080' }} />
    </div>
  );
}
